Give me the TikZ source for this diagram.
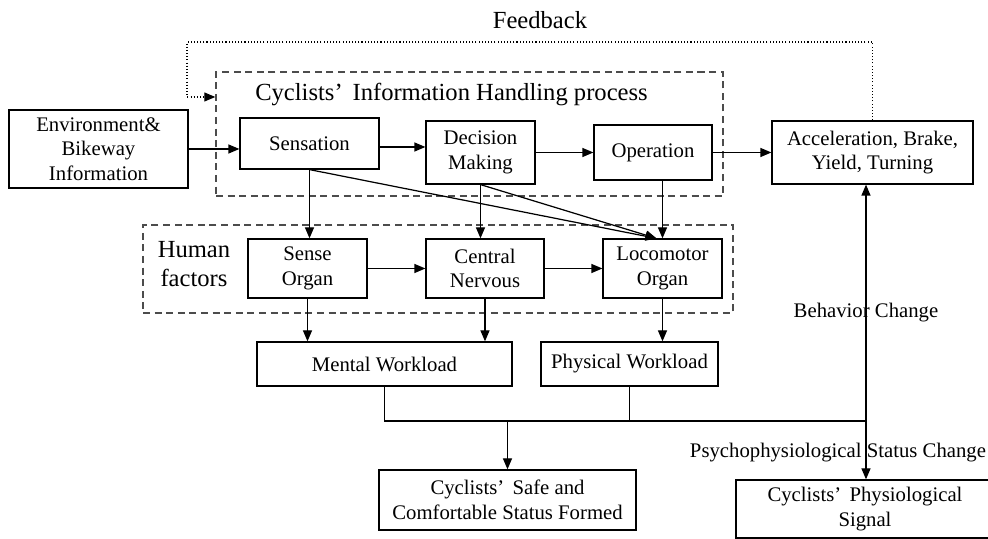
\documentclass[tikz,border=0pt]{standalone}
\usepackage{fontspec}
\setmainfont{Liberation Serif}
\usetikzlibrary{arrows.meta}

% wide closing quote as in the original
\newcommand{\fwq}{’\hspace{0.4em}}

\begin{document}
\begin{tikzpicture}[
    blockbox/.style={draw, line width=0.7pt, align=center, inner sep=0pt, font=\fontsize{11.8}{14}\selectfont},
    groupbox/.style={draw, black!70, line width=0.8pt, dash pattern=on 4pt off 2.6pt, inner sep=0pt},
    arr/.style={line width=0.7pt, -{Triangle[length=2.2mm,width=1.8mm]}},
    wire/.style={line width=0.7pt},
    bigtext/.style={font=\fontsize{14}{16.5}\selectfont, align=center, inner sep=0pt},
    smalltext/.style={font=\fontsize{11.8}{14}\selectfont, inner sep=0pt}
]

    % Fix the page size and cut off what runs over its edge
    \useasboundingbox (0,0) rectangle (19.76,10.78);
    \clip (0,0) rectangle (19.76,10.78);

    % Dashed group of the information handling process
    \node[groupbox, minimum width=10.14cm, minimum height=2.48cm] (info) at (9.39, 8.10) {};
    \node[bigtext] (infotitle) at (9.03, 8.88) {Cyclists\fwq Information Handling process};

    % Dashed group of the human factors
    \node[groupbox, minimum width=11.80cm, minimum height=1.76cm] (human) at (8.76, 5.40) {};
    \node[bigtext] (humantitle) at (3.88, 5.49) {Human\\factors};

    % Boxes of the first row
    \node[blockbox, minimum width=3.58cm, minimum height=1.56cm] (env) at (1.97, 7.80) {Environment\&\\Bikeway\\Information};
    \node[blockbox, minimum width=2.78cm, minimum height=1.02cm] (sens) at (6.19, 7.91) {Sensation};
    \node[blockbox, minimum width=2.18cm, minimum height=1.26cm] (dec) at (9.61, 7.73) {Decision\\Making};
    \node[blockbox, minimum width=2.36cm, minimum height=1.10cm] (oper) at (13.06, 7.73) {Operation};
    \node[blockbox, minimum width=4.02cm, minimum height=1.26cm] (acc) at (17.45, 7.73) {Acceleration, Brake,\\Yield, Turning};

    % Boxes of the human factors
    \node[blockbox, minimum width=2.38cm, minimum height=1.18cm] (sense) at (6.15, 5.41) {Sense\\Organ};
    \node[blockbox, minimum width=2.36cm, minimum height=1.18cm] (central) at (9.70, 5.41) {Central\\Nervous};
    \node[blockbox, minimum width=2.38cm, minimum height=1.18cm] (loco) at (13.25, 5.41) {Locomotor\\Organ};

    % Workload boxes
    \node[blockbox, minimum width=5.10cm, minimum height=0.88cm] (ment) at (7.69, 3.50) {Mental Workload};
    \node[blockbox, minimum width=3.54cm, minimum height=0.88cm] (phys) at (12.59, 3.50) {Physical Workload};

    % Result boxes (the right one runs over the page edge)
    \node[blockbox, minimum width=5.14cm, minimum height=1.20cm] (safe) at (10.15, 0.78) {Cyclists\fwq Safe and\\Comfortable Status Formed};
    \node[blockbox, minimum width=5.16cm, minimum height=1.16cm] (signal) at (17.30, 0.60) {Cyclists\fwq Physiological\\Signal};

    % Arrows along the first row
    \draw[arr] (env.east) -- (env.east -| sens.west);
    \draw[arr] ([yshift=-0.07cm]sens.east) -- ([yshift=-0.07cm]sens.east -| dec.west);
    \draw[arr] (dec.east) -- (oper.west);
    \draw[arr] (oper.east) -- (acc.west);

    % Arrows down into the human factors
    \draw[arr] (sens.south) -- (sens.south |- sense.north);
    \draw[arr] (dec.south) -- (dec.south |- central.north);
    \draw[arr] (loco.north |- oper.south) -- (loco.north);
    \draw[arr] (sens.south) -- ([xshift=-0.12cm]loco.north);
    \draw[arr] (dec.south) -- ([xshift=-0.12cm]loco.north);

    % Arrows between the human factors
    \draw[arr] (sense.east) -- (central.west);
    \draw[arr] (central.east) -- (loco.west);

    % Arrows down to the workloads
    \draw[arr] (sense.south) -- (sense.south |- ment.north);
    \draw[arr] (central.south) -- (central.south |- ment.north);
    \draw[arr] (loco.south) -- (loco.south |- phys.north);

    % Collecting line of the workloads
    \coordinate (join) at (17.32, 2.36);
    \draw[wire] (ment.south) |- (join);
    \draw[wire] (phys.south) -- (phys.south |- join);
    \draw[arr] (safe.north |- join) -- (safe.north);

    % Behavior and status changes
    \draw[arr] (join) -- (join |- acc.south);
    \draw[arr] (join) -- (join |- signal.north);
    \node[smalltext] (behav) at (17.32, 4.52) {Behavior Change};
    \node[smalltext] (status) at (16.76, 1.72) {Psychophysiological Status Change};

    % Feedback loop
    \coordinate (fbturn) at (3.74, 8.84);
    \draw[line width=0.6pt, dash pattern=on 0.6pt off 1.2pt, -{Triangle[length=2.2mm,width=1.8mm]}]
        (acc.north) |- (3.74, 9.94) -- (fbturn) -- (fbturn -| info.west);
    \node[bigtext] (fb) at (10.80, 10.38) {Feedback};

\end{tikzpicture}
\end{document}
